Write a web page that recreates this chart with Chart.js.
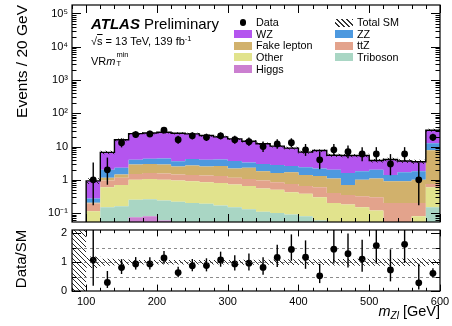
<!DOCTYPE html>
<html>
<head>
<meta charset="utf-8">
<script src="https://cdn.jsdelivr.net/npm/chart.js@4.4.1/dist/chart.umd.min.js"></script>
<style>
  html, body { margin: 0; padding: 0; background: #fff; }
  #plot { position: relative; width: 452px; height: 326px; overflow: hidden; font-family: 'Liberation Sans', Arial, sans-serif; color: #000; }
  #plot canvas { position: absolute; left: 0; }
  .txt { position: absolute; white-space: nowrap; line-height: 1; }
  .rot { transform-origin: 0 0; transform: rotate(-90deg); }
  .box { position: absolute; width: 18px; height: 8px; }
  .leg { position: absolute; font-size: 10.8px; line-height: 1; white-space: nowrap; }
  .hatch { background: repeating-linear-gradient(45deg, rgba(0,0,0,0) 0 2.6px, #333 2.6px 3.6px); }
</style>
</head>
<body>
<div id="plot">
  <canvas id="mainChart" width="452" height="226" style="top:0"></canvas>
  <canvas id="ratioChart" width="452" height="100" style="top:226px"></canvas>

  <div class="txt rot" style="left:14px;top:205px;width:200px;text-align:right;font-size:15.5px">Events / 20 GeV</div>
  <div class="txt rot" style="left:13px;top:309px;width:100px;text-align:center;font-size:15px">Data/SM</div>
  <div class="txt" style="right:12px;top:304px;font-size:14.5px"><i>m</i><span style="font-size:10px;position:relative;top:3px"><i>Zl</i></span> [GeV]</div>

  <div class="txt" style="left:91px;top:15.6px;font-size:15px"><b><i>ATLAS</i></b> Preliminary</div>
  <div class="txt" style="left:91px;top:35.5px;font-size:11px">√<span style="text-decoration:overline">s</span> = 13 TeV, 139 fb<span style="font-size:7.5px;position:relative;top:-4px">-1</span></div>
  <div class="txt" style="left:91px;top:55.8px;font-size:11px">VR<i>m</i><span style="position:relative;display:inline-block;width:13px;height:9px"><span style="position:absolute;left:1px;top:-5px;font-size:7.5px">min</span><span style="position:absolute;left:1px;top:4px;font-size:7.5px">T</span></span></div>

  <div id="legend"></div>
</div>

<script>
// bin layout (GeV)
const binEdges = [100, 120, 140, 160, 180, 200, 220, 240, 260, 280, 300, 320, 340, 360, 380, 400, 420, 440, 460, 480, 500, 520, 540, 560, 580, 600];

// expected events per bin, stacked from bottom to top
const higgs    = [0.003, 0.01, 0.02, 0.075, 0.08, 0.06, 0.05, 0.045, 0.04, 0.03, 0.03, 0.025, 0.02, 0.02, 0.015, 0.015, 0.01, 0.008, 0.008, 0.006, 0.005, 0.003, 0.003, 0.005, 0.03];
const triboson = [0.02, 0.14, 0.14, 0.175, 0.18, 0.18, 0.17, 0.155, 0.15, 0.14, 0.12, 0.105, 0.09, 0.08, 0.075, 0.065, 0.05, 0.032, 0.032, 0.024, 0.025, 0.007, 0.007, 0.015, 0.12];
const other    = [0.09, 0.45, 0.54, 0.75, 0.79, 0.76, 0.73, 0.7, 0.66, 0.63, 0.57, 0.52, 0.44, 0.4, 0.33, 0.3, 0.24, 0.16, 0.14, 0.12, 0.09, 0.025, 0.025, 0.06, 0.45];
const ttZ      = [0.08, 0.35, 0.45, 0.5, 0.55, 0.55, 0.5, 0.5, 0.5, 0.5, 0.43, 0.4, 0.4, 0.35, 0.33, 0.27, 0.3, 0.2, 0.17, 0.17, 0.18, 0.165, 0.165, 0.12, 0.15];
const fakeLep  = [0.01, 0.2, 0.3, 1.4, 1.4, 1.35, 1.05, 1.3, 1.15, 1.3, 1.05, 1.25, 0.85, 0.75, 0.95, 0.75, 0.7, 0.7, 0.35, 0.68, 0.8, 0.7, 0.7, 0.8, 6.95];
const zz       = [0.07, 0.85, 0.85, 1.1, 1.3, 1.5, 1.1, 1.5, 1.5, 1.5, 1.5, 1.0, 1.2, 1.2, 0.9, 1.0, 0.9, 0.9, 0.9, 0.8, 0.9, 0.5, 0.8, 0.8, 4.8];
const wz       = [0.657, 4.7, 13.7, 20.5, 21.2, 22.6, 21.4, 19.8, 17.5, 15.4, 13.3, 11.2, 9.2, 7.5, 6.4, 4.4, 5.4, 3.5, 3.8, 3.6, 1.8, 2.7, 2.0, 1.7, 18.5];

// relative uncertainty on the total prediction
const smUncert = [0.2, 0.12, 0.1, 0.08, 0.08, 0.08, 0.08, 0.08, 0.08, 0.08, 0.08, 0.09, 0.09, 0.09, 0.1, 0.1, 0.1, 0.11, 0.11, 0.12, 0.12, 0.12, 0.13, 0.14, 0.1];

// observed events
const dataCounts = [1, 2, 13, 23, 24, 31, 16, 21, 19, 21, 16, 14, 10, 12, 13, 8, 4, 8, 7, 6, 6, 3, 6, 1, 19];

const logTickPowers = [-1, 0, 1, 2, 3, 4, 5];
const ratioTicks = [0, 1, 2];
const massTicks = [100, 200, 300, 400, 500, 600];
const ratioRefLines = [0.5, 1, 1.5];

const processes = [
  { name: 'Higgs',       values: higgs,    color: '#cb7fd0' },
  { name: 'Triboson',    values: triboson, color: '#a9d6c4' },
  { name: 'Other',       values: other,    color: '#e1e38d' },
  { name: 'ttZ',         values: ttZ,      color: '#e3a38c' },
  { name: 'Fake lepton', values: fakeLep,  color: '#d1b16c' },
  { name: 'ZZ',          values: zz,       color: '#4d99df' },
  { name: 'WZ',          values: wz,       color: '#b455ef' }
];

const X_MIN = 80, X_MAX = 600;
const Y_MIN = 0.054, Y_MAX = 1.8e5;
const R_MIN = 0, R_MAX = 2.12;
const FONT = "'Liberation Sans', Arial, sans-serif";

const centres = binEdges.slice(0, -1).map((e, i) => (e + binEdges[i + 1]) / 2);
const total = centres.map((c, i) => processes.reduce((s, p) => s + p.values[i], 0));

// Gehrels approximations for the Poisson interval
const poisUp = n => n + Math.sqrt(n + 0.75) + 1;
const poisDown = n => n === 0 ? 0 : n * Math.pow(1 - 1 / (9 * n) - 1 / (3 * Math.sqrt(n)), 3);

// step outline: one point per left edge plus the last right edge
function steps(vals) {
  const pts = vals.map((v, i) => ({ x: binEdges[i], y: v }));
  pts.push({ x: binEdges[binEdges.length - 1], y: vals[vals.length - 1] });
  return pts;
}

function hatchPattern(color) {
  const c = document.createElement('canvas');
  c.width = 5; c.height = 5;
  const g = c.getContext('2d');
  g.strokeStyle = color;
  g.lineWidth = 1;
  g.beginPath();
  g.moveTo(-1, -1); g.lineTo(6, 6);
  g.moveTo(-1, 4); g.lineTo(1, 6);
  g.moveTo(4, -1); g.lineTo(6, 1);
  g.stroke();
  return g.createPattern(c, 'repeat');
}

const superDigits = { '-': '⁻', '0': '⁰', '1': '¹', '2': '²', '3': '³', '4': '⁴', '5': '⁵' };
function powLabel(v) {
  const k = Math.round(Math.log10(v));
  if (k === 0) return '1';
  if (k === 1) return '10';
  return '10' + String(k).split('').map(ch => superDigits[ch]).join('');
}

// keep the plot frame where the layout padding puts it
function fixWidth(s) { s.width = 72; s.paddingTop = 0; s.paddingBottom = 0; }

// dashed reference lines, error bars, frame and inward ticks
const panelDecor = {
  id: 'panelDecor',
  beforeDatasetsDraw(chart, args, o) {
    if (!o.refLines) return;
    const { ctx, chartArea: a, scales: { y } } = chart;
    ctx.save();
    ctx.strokeStyle = '#8c8c8c';
    ctx.lineWidth = 1;
    ctx.setLineDash([3, 3]);
    o.refLines.forEach(v => {
      const py = Math.round(y.getPixelForValue(v)) + 0.5;
      ctx.beginPath();
      ctx.moveTo(a.left, py);
      ctx.lineTo(a.right, py);
      ctx.stroke();
    });
    ctx.restore();
  },
  afterDatasetsDraw(chart, args, o) {
    const { ctx, chartArea: a, scales: { x, y } } = chart;
    ctx.save();
    ctx.beginPath();
    ctx.rect(a.left, a.top, a.right - a.left, a.bottom - a.top);
    ctx.clip();
    ctx.strokeStyle = '#000';
    ctx.lineWidth = 1.4;
    o.errors.forEach(e => {
      const px = x.getPixelForValue(e.x);
      ctx.beginPath();
      ctx.moveTo(px, y.getPixelForValue(Math.max(e.lo, 1e-6)));
      ctx.lineTo(px, y.getPixelForValue(e.hi));
      ctx.stroke();
    });
    ctx.restore();

    ctx.save();
    ctx.strokeStyle = '#000';
    ctx.lineWidth = 1;
    ctx.beginPath();
    o.xTicks.forEach(([v, len]) => {
      const px = Math.round(x.getPixelForValue(v)) + 0.5;
      ctx.moveTo(px, a.bottom); ctx.lineTo(px, a.bottom - len);
      ctx.moveTo(px, a.top); ctx.lineTo(px, a.top + len);
    });
    o.yTicks.forEach(([v, len]) => {
      const py = Math.round(y.getPixelForValue(v)) + 0.5;
      ctx.moveTo(a.left, py); ctx.lineTo(a.left + len, py);
      ctx.moveTo(a.right, py); ctx.lineTo(a.right - len, py);
    });
    ctx.stroke();
    ctx.lineWidth = 1.2;
    ctx.strokeRect(a.left, a.top, a.right - a.left, a.bottom - a.top);
    ctx.restore();
  }
};

const xTickMarks = [];
for (let v = X_MIN; v <= X_MAX; v += 20) xTickMarks.push([v, v % 100 === 0 ? 8 : 4]);

const logTickMarks = [];
logTickPowers.concat([-2]).forEach(k => {
  for (let m = 1; m <= 9; m++) {
    const v = m * Math.pow(10, k);
    if (v >= Y_MIN && v <= Y_MAX) logTickMarks.push([v, m === 1 ? 9 : 4.5]);
  }
});

const ratioTickMarks = [[0, 9], [0.5, 4.5], [1, 9], [1.5, 4.5], [2, 9]];

const hatch = hatchPattern('#2a2a2a');
const line0 = { pointRadius: 0, pointHitRadius: 0, borderWidth: 0, borderColor: 'rgba(0,0,0,0)', stepped: true };
const noGrid = { display: false, drawTicks: false };

// cumulative stack outlines
let running = centres.map(() => 0);
const stackSets = processes.map((p, k) => {
  running = running.map((r, i) => r + p.values[i]);
  return Object.assign({}, line0, {
    label: p.name,
    data: steps(running),
    backgroundColor: p.color,
    fill: k === 0 ? 'start' : '-1',
    order: 10
  });
});

const totalLine = [{ x: binEdges[0], y: Y_MIN }].concat(steps(total));

const mainSets = stackSets.concat([
  Object.assign({}, line0, { label: 'unc up', data: steps(total.map((t, i) => t * (1 + smUncert[i]))), fill: false, order: 3 }),
  Object.assign({}, line0, { label: 'Total SM', data: steps(total.map((t, i) => t * (1 - smUncert[i]))), fill: '-1', backgroundColor: hatch, order: 3 }),
  { type: 'line', label: 'total', data: totalLine, stepped: true, borderColor: '#000', borderWidth: 1.4, pointRadius: 0, fill: false, order: 2 },
  { type: 'scatter', label: 'Data', data: centres.map((c, i) => ({ x: c, y: dataCounts[i] })), pointRadius: 3.4, pointBackgroundColor: '#000', pointBorderWidth: 0, order: 1 }
]);

const mainErrors = centres.map((c, i) => ({ x: c, lo: poisDown(dataCounts[i]), hi: poisUp(dataCounts[i]) }));

new Chart(document.getElementById('mainChart'), {
  type: 'line',
  data: { datasets: mainSets },
  options: {
    responsive: false,
    animation: false,
    events: [],
    layout: { padding: { left: 0, right: 12, top: 5, bottom: 3 } },
    scales: {
      x: { type: 'linear', min: X_MIN, max: X_MAX, display: false },
      y: {
        type: 'logarithmic', min: Y_MIN, max: Y_MAX,
        afterFit: fixWidth,
        afterBuildTicks: s => { s.ticks = logTickPowers.map(k => ({ value: Math.pow(10, k) })); },
        grid: noGrid,
        border: { display: false },
        ticks: { autoSkip: false, padding: 4, color: '#000', font: { family: FONT, size: 11 }, callback: v => powLabel(v) }
      }
    },
    plugins: {
      legend: { display: false },
      tooltip: { enabled: false },
      panelDecor: { errors: mainErrors, xTicks: xTickMarks, yTicks: logTickMarks }
    }
  },
  plugins: [panelDecor]
});

// ratio panel
const ratio = dataCounts.map((n, i) => n / total[i]);
const ratioErrors = centres.map((c, i) => ({ x: c, lo: poisDown(dataCounts[i]) / total[i], hi: poisUp(dataCounts[i]) / total[i] }));

const ratioSets = [
  Object.assign({}, line0, { label: 'band up', data: steps(smUncert.map(u => 1 + u)), fill: false }),
  Object.assign({}, line0, { label: 'band down', data: steps(smUncert.map(u => 1 - u)), fill: '-1', backgroundColor: hatch }),
  // no prediction below the first bin edge
  Object.assign({}, line0, { label: 'empty up', data: [{ x: X_MIN, y: R_MAX }, { x: binEdges[0], y: R_MAX }], fill: false }),
  Object.assign({}, line0, { label: 'empty down', data: [{ x: X_MIN, y: R_MIN }, { x: binEdges[0], y: R_MIN }], fill: '-1', backgroundColor: hatch }),
  { type: 'scatter', label: 'Data/SM', data: centres.map((c, i) => ({ x: c, y: ratio[i] })), pointRadius: 3.4, pointBackgroundColor: '#000', pointBorderWidth: 0 }
];

new Chart(document.getElementById('ratioChart'), {
  type: 'line',
  data: { datasets: ratioSets },
  options: {
    responsive: false,
    animation: false,
    events: [],
    layout: { padding: { left: 0, right: 12, top: 4, bottom: 0 } },
    scales: {
      x: {
        type: 'linear', min: X_MIN, max: X_MAX,
        afterFit: s => { s.height = 35; s.paddingLeft = 0; s.paddingRight = 0; },
        afterBuildTicks: s => { s.ticks = massTicks.map(v => ({ value: v })); },
        grid: noGrid,
        border: { display: false },
        ticks: { autoSkip: false, maxRotation: 0, padding: 4, color: '#000', font: { family: FONT, size: 11 } }
      },
      y: {
        type: 'linear', min: R_MIN, max: R_MAX,
        afterFit: fixWidth,
        afterBuildTicks: s => { s.ticks = ratioTicks.map(v => ({ value: v })); },
        grid: noGrid,
        border: { display: false },
        ticks: { autoSkip: false, padding: 5, color: '#000', font: { family: FONT, size: 11 }, callback: v => String(v) }
      }
    },
    plugins: {
      legend: { display: false },
      tooltip: { enabled: false },
      panelDecor: { refLines: ratioRefLines, errors: ratioErrors, xTicks: xTickMarks.map(([v, l]) => [v, l * 0.8]), yTicks: ratioTickMarks }
    }
  },
  plugins: [panelDecor]
});

// legend, two columns
const legendCols = [
  { x: 234, rows: [{ name: 'Data', kind: 'dot' }, 'WZ', 'Fake lepton', 'Other', 'Higgs'] },
  { x: 335, rows: [{ name: 'Total SM', kind: 'hatch' }, 'ZZ', 'ttZ', 'Triboson'] }
];
const legendEl = document.getElementById('legend');
legendCols.forEach(col => {
  col.rows.forEach((row, r) => {
    const name = typeof row === 'string' ? row : row.name;
    const kind = typeof row === 'string' ? 'box' : row.kind;
    const mid = 22.5 + r * 11.6;
    let sym;
    if (kind === 'dot') {
      sym = `<div style="position:absolute;left:${col.x + 9 - 3.2}px;top:${mid - 3.2}px;width:6.4px;height:6.4px;border-radius:50%;background:#000"></div>`;
    } else if (kind === 'hatch') {
      sym = `<div class="box hatch" style="left:${col.x}px;top:${mid - 4}px"></div>`;
    } else {
      const p = processes.find(q => q.name === name);
      sym = `<div class="box" style="left:${col.x}px;top:${mid - 4}px;background:${p.color}"></div>`;
    }
    legendEl.insertAdjacentHTML('beforeend', sym +
      `<div class="leg" style="left:${col.x + 22}px;top:${mid - 5.4}px">${name}</div>`);
  });
});
</script>
</body>
</html>
